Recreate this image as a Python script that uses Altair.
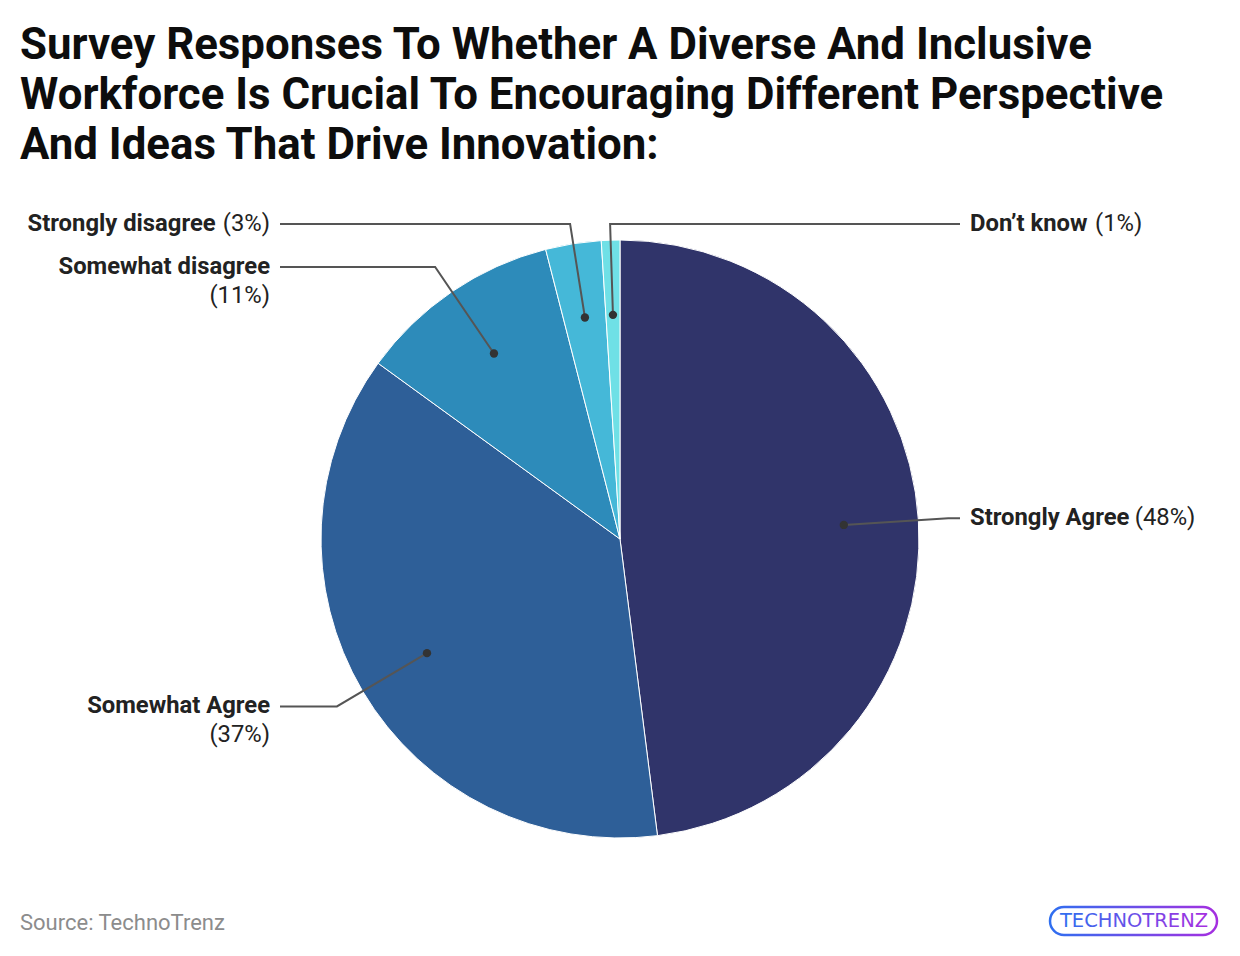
import math
import altair as alt
import pandas as pd

# ---------------- data ----------------
categories = ["Strongly Agree", "Somewhat Agree", "Somewhat disagree", "Strongly disagree", "Don’t know"]
values = [48, 37, 11, 3, 1]
colors = ["#30346a", "#2e5f98", "#2d8bba", "#45b8d8", "#6fe0e6"]
two_line = [False, True, True, False, False]

title_lines = [
    "Survey Responses To Whether A Diverse And Inclusive",
    "Workforce Is Crucial To Encouraging Different Perspective",
    "And Ideas That Drive Innovation:",
]
source_text = "Source: TechnoTrenz"
logo_text = "TECHNOTRENZ"

# ---------------- layout / style ----------------
W, H = 1224, 940          # whole drawing area (padding 0)
CX, CY = 612, 531         # pie centre in plot pixels
R = 299                   # pie radius in pixels (1 data unit)
FONT = "Roboto"
LABEL_SIZE = 23.8
LINE_GAP = 29             # px between label lines
GAP = 0.3 * LABEL_SIZE    # space between bold name and percentage
DOT_R, ELBOW_R = 0.75, 1.1
TOP_LIMIT = (CY - 216) / R
COL = 350 / R             # label column offset from centre
LINE_END = 340 / R

REG = {"(": .342, ")": .348, "%": .733, " ": .248}
BOLD = {" ": .248, "S": .603, "t": .341, "r": .351, "o": .566, "n": .553, "g": .566,
        "l": .258, "y": .487, "A": .667, "e": .533, "D": .653, "’": .212, "k": .519,
        "w": .744, "d": .566, "i": .258, "s": .52, "a": .54, "h": .553, "m": .87, "W": .87}


def tw(s, table):
    return sum(table.get(c, 0.5615) for c in s) * LABEL_SIZE


# ---------------- geometry from values ----------------
total = sum(values)
rows_pie, rows_line, rows_dot, rows_txt = [], [], [], []
cum = 0
for i, (cat, v, tl) in enumerate(zip(categories, values, two_line)):
    rows_pie.append({"category": cat, "value": v, "idx": i})
    mid = (cum + v / 2) / total * 2 * math.pi
    cum += v
    sx, cy = math.sin(mid), math.cos(mid)
    dx_, dy_ = DOT_R * sx, DOT_R * cy
    ex, ey = ELBOW_R * sx, ELBOW_R * cy
    if ey > TOP_LIMIT:
        t = (TOP_LIMIT - dy_) / (ey - dy_)
        ex, ey = dx_ + (ex - dx_) * t, TOP_LIMIT
    side = 1 if sx > -0.05 else -1
    rows_dot.append({"category": cat, "x": dx_, "y": dy_})
    for k, (px, py) in enumerate([(dx_, dy_), (ex, ey), (side * LINE_END, ey)]):
        rows_line.append({"category": cat, "seq": k, "x": px, "y": py})
    pct = f"({v}%)"
    if side == 1:
        rows_txt.append({"t": cat, "x": COL, "y": ey, "w": "bold", "a": "left"})
        rows_txt.append({"t": pct, "x": COL + (tw(cat, BOLD) + GAP) / R,
                         "y": ey, "w": "normal", "a": "left"})
    elif tl:
        rows_txt.append({"t": cat, "x": -COL, "y": ey, "w": "bold", "a": "right"})
        rows_txt.append({"t": pct, "x": -COL, "y": ey - LINE_GAP / R, "w": "normal", "a": "right"})
    else:
        rows_txt.append({"t": pct, "x": -COL, "y": ey, "w": "normal", "a": "right"})
        rows_txt.append({"t": cat, "x": -COL - (tw(pct, REG) + GAP) / R,
                         "y": ey, "w": "bold", "a": "right"})

pie_df = pd.DataFrame(rows_pie)
line_df = pd.DataFrame(rows_line)
dot_df = pd.DataFrame(rows_dot)
txt_df = pd.DataFrame(rows_txt)

xs = alt.Scale(domain=[-CX / R, (W - CX) / R], nice=False, zero=False)
ys = alt.Scale(domain=[-(H - CY) / R, CY / R], nice=False, zero=False)

arc = alt.Chart(pie_df).mark_arc(radius=R, stroke="white", strokeWidth=1).encode(
    theta=alt.Theta("value:Q", stack=True),
    color=alt.Color("category:N", scale=alt.Scale(domain=categories, range=colors), legend=None),
    order=alt.Order("idx:Q", sort="ascending"),
    x=alt.XDatum(0, scale=xs, axis=None),
    y=alt.YDatum(0, scale=ys, axis=None),
)

lines = alt.Chart(line_df).mark_line(color="#555555", strokeWidth=2).encode(
    x=alt.X("x:Q", scale=xs, axis=None),
    y=alt.Y("y:Q", scale=ys, axis=None),
    detail="category:N",
    order="seq:Q",
)

dots = alt.Chart(dot_df).mark_circle(size=70, color="#333333", opacity=1).encode(
    x=alt.X("x:Q", scale=xs, axis=None),
    y=alt.Y("y:Q", scale=ys, axis=None),
)


def text_layer(weight, align):
    return alt.Chart(txt_df).transform_filter(
        (alt.datum.w == weight) & (alt.datum.a == align)
    ).mark_text(font=FONT, fontSize=LABEL_SIZE, fontWeight=weight, align=align,
                baseline="middle", color="#222222").encode(
        x=alt.X("x:Q", scale=xs, axis=None),
        y=alt.Y("y:Q", scale=ys, axis=None),
        text="t:N",
    )


texts = [text_layer(w, a) for w in ["bold", "normal"] for a in ["left", "right"]]

one = pd.DataFrame({"a": [0]})
title = alt.Chart(one).mark_text(
    text="\n".join(title_lines), lineBreak="\n", lineHeight=50, font=FONT, fontSize=43.8,
    fontWeight="bold", align="left", baseline="alphabetic", color="#0d0d0d",
).encode(x=alt.value(12), y=alt.value(51))

source = alt.Chart(one).mark_text(
    text=source_text, font=FONT, fontSize=22, align="left", baseline="alphabetic", color="#8c8c8c",
).encode(x=alt.value(12), y=alt.value(922))

grad = alt.LinearGradient(gradient="linear",
                          stops=[alt.GradientStop(color="#2f6ff0", offset=0),
                                 alt.GradientStop(color="#a52fe0", offset=1)],
                          x1=0, x2=1, y1=0, y2=0)
logo_box = alt.Chart(one).mark_rect(stroke=grad, strokeWidth=2.5, fillOpacity=0, cornerRadius=14).encode(
    x=alt.value(1042), x2=alt.value(1209), y=alt.value(899), y2=alt.value(927))
logo = alt.Chart(one).mark_text(
    text=logo_text, font="DejaVu Sans", fontSize=19.5, align="center", baseline="middle", fill=grad,
).encode(x=alt.value(1126), y=alt.value(913))

chart = alt.layer(arc, lines, dots, *texts, title, source, logo_box, logo).properties(
    width=W, height=H, padding=0, autosize=alt.AutoSizeParams(type="none"), background="white"
).configure_view(stroke=None)

chart.save("out.html", embed_options={"renderer": "svg", "actions": False})
